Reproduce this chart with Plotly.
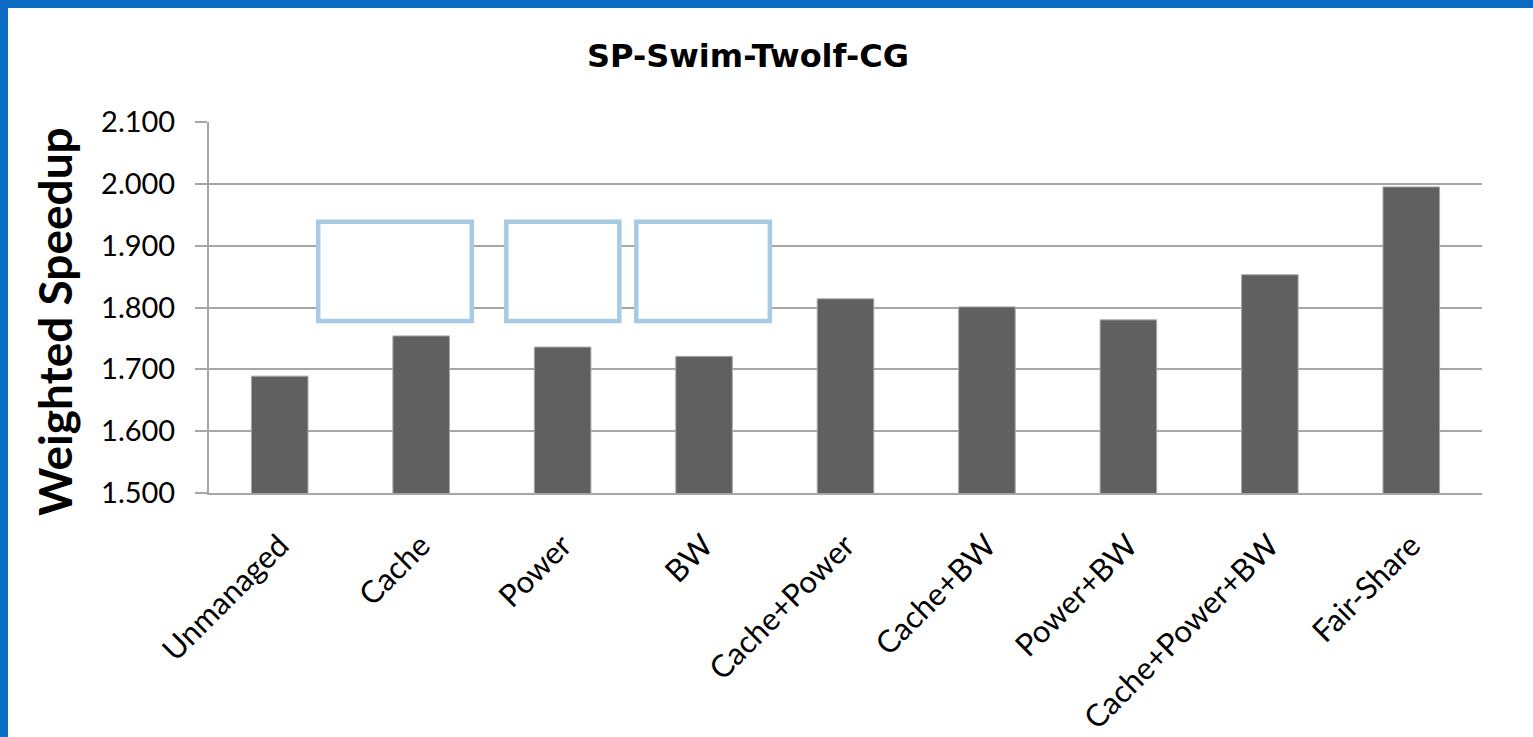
import plotly.graph_objects as go

categories = ["Unmanaged", "Cache", "Power", "BW", "Cache+Power", "Cache+BW",
              "Power+BW", "Cache+Power+BW", "Fair-Share"]
speedup = [1.689, 1.754, 1.736, 1.721, 1.814, 1.801, 1.780, 1.853, 1.995]
title_text = "SP-Swim-Twolf-CG"
y_title = "Weighted Speedup"

# empty highlight boxes (category-index span, value span)
boxes_x = [(0.272, 1.358), (1.602, 2.401), (2.521, 3.465)]
boxes_y = (1.778, 1.9385)

FONT = "Lato"
W, H = 1533, 737
L, R, T, B = 209, 51, 122, 244
pw, ph = W - L - R, H - T - B

def px_x(px):
    return (px - L) / pw

def px_y(py):
    return (H - B - py) / ph

fig = go.Figure(go.Bar(
    x=list(range(len(categories))), y=speedup,
    marker=dict(color="#606060", line=dict(color="#A8A8A8", width=1)),
    width=0.4,
))

shapes = []
for x0, x1 in boxes_x:
    shapes.append(dict(type="rect", xref="x", yref="y", x0=x0, x1=x1,
                       y0=boxes_y[0], y1=boxes_y[1],
                       line=dict(color="#A8CAE2", width=4.5),
                       fillcolor="rgba(255,255,255,1)", layer="above"))
# blue frame (left and top)
blue = "#0B6BC3"
shapes.append(dict(type="rect", xref="paper", yref="paper",
                   x0=px_x(-2), x1=px_x(8), y0=px_y(H + 2), y1=px_y(-2),
                   line=dict(width=0), fillcolor=blue, layer="above"))
shapes.append(dict(type="rect", xref="paper", yref="paper",
                   x0=px_x(-2), x1=px_x(W + 2), y0=px_y(8), y1=px_y(-2),
                   line=dict(width=0), fillcolor=blue, layer="above"))

fig.update_layout(
    width=W, height=H,
    margin=dict(l=L, r=R, t=T, b=B, pad=0, autoexpand=False),
    paper_bgcolor="white", plot_bgcolor="white",
    showlegend=False,
    shapes=shapes,
    title=dict(text="<b>" + title_text + "</b>", x=748 / W, xanchor="center",
               y=1 - 56 / H, yanchor="middle",
               font=dict(family="DejaVu Sans", size=32, color="black")),
    font=dict(family=FONT, color="black"),
    bargap=0.6,
    annotations=[dict(text="<b>" + y_title + "</b>", textangle=-90,
                      xref="paper", yref="paper", x=px_x(54), y=px_y(322),
                      xanchor="center", yanchor="middle", showarrow=False,
                      font=dict(family=FONT, size=46, color="black"))],
)
fig.update_xaxes(
    type="linear", range=[-0.5, len(categories) - 0.5], automargin=False,
    tickmode="array", tickvals=list(range(len(categories))), ticktext=categories,
    tickangle=-45, tickfont=dict(family=FONT, size=31, color="black"),
    showgrid=False, showline=True, linecolor="#A6A6A6", linewidth=2,
    ticks="", ticklabelstandoff=20, zeroline=False,
)
fig.update_yaxes(
    range=[1.5, 2.1], dtick=0.1, tick0=1.5, tickformat=".3f", automargin=False,
    tickfont=dict(family=FONT, size=29, color="black"),
    showgrid=True, gridcolor="#A6A6A6", gridwidth=2,
    showline=True, linecolor="#A6A6A6", linewidth=2,
    ticks="outside", ticklen=12, tickcolor="#A6A6A6", tickwidth=2,
    ticklabelstandoff=14, zeroline=False,
)
fig.write_html("out.html", config={"displayModeBar": False},
               post_script="document.body.style.margin='0';")
